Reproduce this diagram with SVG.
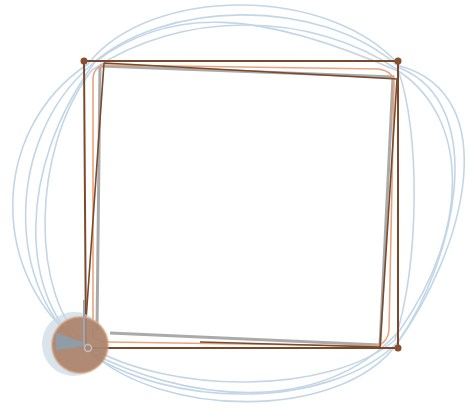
<svg xmlns="http://www.w3.org/2000/svg" width="470" height="409" viewBox="0 0 470 409">
<style>
.loop{fill:none;stroke:#c3d6e7;stroke-width:1.6}
.sq{fill:none;stroke:#7b4a2d;stroke-width:2}
.inner{fill:none;stroke:#7b4a2d;stroke-width:1.6}
.grey{fill:none;stroke:#8e8e8e;stroke-width:3;opacity:0.75}
.orange{fill:none;stroke:#eaa47c;stroke-width:1.6}
.dot{fill:#87502f}
</style>
<rect width="470" height="409" fill="#ffffff"/>
<g id="loops">
<path class="loop" d="M88,64 C150,-15 330,-15 400,66 C505,95 465,250 396,345 C340,420 160,420 86,348 C-12,280 -12,130 88,64 Z"/>
<path class="loop" d="M90,66 C160,0 320,-5 400,68 C490,105 455,260 398,342 C330,410 170,410 85,350 C5,290 5,140 90,66 Z"/>
<path class="loop" d="M92,70 C180,10 310,10 398,70 C420,130 420,260 395,340 C330,395 170,395 88,346 C30,300 30,150 92,70 Z"/>
<path class="loop" d="M95,62 C170,5 260,10 400,72 C470,120 470,230 400,330 C320,420 180,400 86,350 C20,300 15,170 95,62 Z"/>
</g>
<g id="grey-quad">
<path class="grey" d="M100,66 L393,77 L380,345 L110,333 M100,66 L97,330"/>
</g>
<g id="orange-path">
<path class="orange" d="M93,335 L93,80 Q93,65 108,65 L378,69 Q395,71 394,86 L389,330 Q387,346 372,346 L110,342 Q95,342 93,335 Z"/>
</g>
<g id="inner-quad">
<path class="inner" d="M104,63 L397,79 L380,347 L200,342 M104,63 L86,320"/>
</g>
<g id="square">
<path class="sq" d="M84,61 L398,61 L398,348 L86,348 Z"/>
<circle class="dot" cx="84" cy="61" r="3.5"/>
<circle class="dot" cx="398" cy="61" r="3.5"/>
<circle class="dot" cx="398" cy="348" r="3.5"/>
</g>
<g id="origin">
<circle cx="74" cy="344" r="32" fill="#c9d9e6" opacity="0.7"/>
<circle cx="80" cy="345" r="28" fill="#a87a5e" opacity="0.85"/>
<circle cx="80" cy="345" r="28" fill="none" stroke="#d9a07c" stroke-width="2" opacity="0.6"/>
<polygon points="56,333 85,343 85,346 56,350" fill="#8c9eae" opacity="0.9"/>
<line x1="84" y1="300" x2="84" y2="346" stroke="#9aa6b0" stroke-width="2"/>
<circle cx="88" cy="348" r="3.5" fill="none" stroke="#b7c0c8" stroke-width="1.5"/>
</g>
</svg>
